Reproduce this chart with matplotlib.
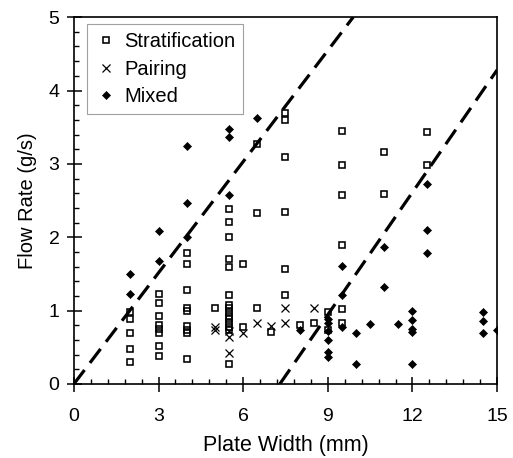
import matplotlib
matplotlib.use("Agg")
import matplotlib.pyplot as plt
from matplotlib.ticker import MultipleLocator

plt.rcParams['font.family'] = ['Liberation Sans', 'DejaVu Sans']

# Stratification (open squares)
strat_x = [2]*5 + [3]*8 + [4]*9 + [5] + [5.5]*15 + [6]*2 + [6.5]*3 + [7] + [7.5]*6 + [8] + [8.5] + [9]*2 + [9.5]*6 + [11]*2 + [12.5]*2
strat_y = [0.98, 0.89, 0.70, 0.48, 0.30,
           1.22, 1.11, 0.93, 0.80, 0.75, 0.69, 0.52, 0.38,
           1.78, 1.64, 1.28, 1.04, 0.99, 0.79, 0.74, 0.70, 0.34,
           1.03,
           2.39, 2.21, 2.00, 1.71, 1.59, 1.21, 1.08, 1.03, 0.98, 0.93, 0.88, 0.83, 0.78, 0.74, 0.27,
           1.63, 0.78,
           3.27, 2.33, 1.03,
           0.71,
           3.69, 3.60, 3.10, 2.34, 1.57, 1.21,
           0.80,
           0.83,
           0.98, 0.73,
           3.45, 2.99, 2.58, 1.90, 1.02, 0.83,
           3.16, 2.59,
           3.43, 2.99]

# Pairing (crosses)
pair_x = [5, 5, 5.5, 5.5, 5.5, 6, 6.5, 7, 7.5, 7.5, 8.5]
pair_y = [0.78, 0.73, 0.72, 0.64, 0.42, 0.70, 0.83, 0.79, 1.03, 0.83, 1.03]

# Mixed (filled diamonds)
mixed_x = [2]*2 + [3]*2 + [4]*3 + [5.5]*3 + [6.5] + [8] + [9]*6 + [9.5]*3 + [10]*2 + [10.5] + [11]*2 + [11.5] + [12]*5 + [12.5]*3 + [14.5]*3 + [15]
mixed_y = [1.50, 1.22,
           2.08, 1.68,
           3.24, 2.47, 2.01,
           3.47, 3.37, 2.57,
           3.63,
           0.73,
           0.88, 0.83, 0.72, 0.60, 0.43, 0.37,
           1.61, 1.21, 0.78,
           0.70, 0.27,
           0.82,
           1.87, 1.32,
           0.82,
           0.99, 0.87, 0.75, 0.71, 0.27,
           2.73, 2.10, 1.78,
           0.98, 0.86, 0.70,
           0.74]

# Dashed boundary lines
line1_x = [0, 9.9]
line1_y = [0, 5.0]
line2_x = [7.3, 15]
line2_y = [0, 4.28]

fig = plt.figure(figsize=(5.13, 4.58), dpi=100)
ax = fig.add_axes([0.144, 0.1616, 0.825, 0.801])

ax.plot(line1_x, line1_y, color='black', lw=2.3, ls=(0, (5.5, 2.8)), zorder=2)
ax.plot(line2_x, line2_y, color='black', lw=2.3, ls=(0, (5.5, 2.8)), zorder=2)

ax.plot(strat_x, strat_y, ls='none', marker='s', ms=5, mfc='none', mec='black',
        mew=1.15, label='Stratification', zorder=3)
ax.plot(pair_x, pair_y, ls='none', marker='x', ms=5.5, mec='black',
        mew=0.9, label='Pairing', zorder=4)
ax.plot(mixed_x, mixed_y, ls='none', marker='D', ms=4.4, mfc='black', mec='black',
        mew=0.5, label='Mixed', zorder=5)

ax.set_xlim(0, 15)
ax.set_ylim(0, 5)
ax.xaxis.set_major_locator(MultipleLocator(3))
ax.xaxis.set_minor_locator(MultipleLocator(0.6))
ax.yaxis.set_major_locator(MultipleLocator(1))
ax.yaxis.set_minor_locator(MultipleLocator(0.2))
ax.tick_params(which='major', direction='inout', length=10.8, width=1.1,
               labelsize=14, top=False, right=False)
ax.tick_params(axis='x', which='major', pad=12)
ax.tick_params(axis='y', which='major', pad=5)
ax.tick_params(which='minor', direction='in', length=3.8, width=1.0, top=False, right=False)
for s in ax.spines.values():
    s.set_linewidth(1.2)

ax.set_xlabel('Plate Width (mm)', fontsize=15.5, labelpad=7)
ax.set_ylabel('Flow Rate (g/s)', fontsize=14.5, labelpad=8)

leg = ax.legend(loc='upper left', bbox_to_anchor=(0.031, 0.981), borderaxespad=0,
                fontsize=14.5, frameon=True, fancybox=False, edgecolor='#888888',
                handlelength=1.1, handletextpad=0.35, borderpad=0.4, labelspacing=0.42,
                markerscale=1.0)
leg.get_frame().set_linewidth(0.8)

fig.savefig('out.png', dpi=100)
